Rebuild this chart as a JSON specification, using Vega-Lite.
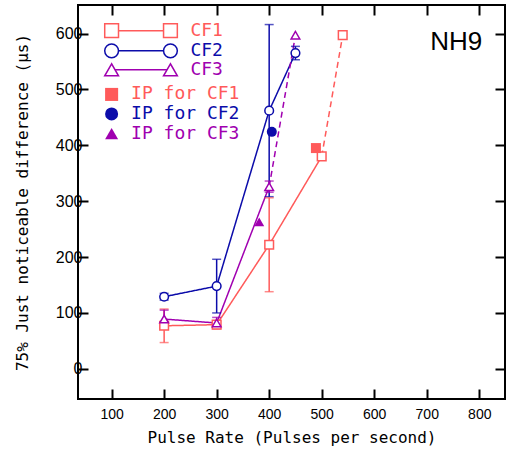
{
  "$schema": "https://vega.github.io/schema/vega-lite/v6.json",
  "width": 427,
  "height": 394,
  "autosize": {"type": "none"},
  "padding": {"left": 78, "top": 5, "right": 1, "bottom": 50},
  "background": "white",
  "config": {
    "view": {"stroke": "black", "strokeWidth": 2},
    "axis": {"grid": false, "domain": false, "tickColor": "black", "tickWidth": 2, "tickSize": -10, "labelColor": "black", "titleColor": "black"}
  },
  "datasets": {
    "lines": [
      {"series": "CF1", "seg": "solid", "x": 200, "y": 77},
      {"series": "CF1", "seg": "solid", "x": 300, "y": 79},
      {"series": "CF1", "seg": "solid", "x": 400, "y": 222},
      {"series": "CF1", "seg": "solid", "x": 500, "y": 380},
      {"series": "CF1", "seg": "dashed", "x": 500, "y": 380},
      {"series": "CF1", "seg": "dashed", "x": 540, "y": 597},
      {"series": "CF2", "seg": "solid", "x": 200, "y": 129},
      {"series": "CF2", "seg": "solid", "x": 300, "y": 148},
      {"series": "CF2", "seg": "solid", "x": 400, "y": 462},
      {"series": "CF2", "seg": "solid", "x": 450, "y": 565},
      {"series": "CF3", "seg": "solid", "x": 200, "y": 89},
      {"series": "CF3", "seg": "solid", "x": 300, "y": 82},
      {"series": "CF3", "seg": "solid", "x": 400, "y": 326},
      {"series": "CF3", "seg": "dashed", "x": 400, "y": 326},
      {"series": "CF3", "seg": "dashed", "x": 450, "y": 597}
    ],
    "pts": [
      {"series": "CF1", "x": 200, "y": 77},
      {"series": "CF1", "x": 300, "y": 79},
      {"series": "CF1", "x": 400, "y": 222},
      {"series": "CF1", "x": 500, "y": 380},
      {"series": "CF1", "x": 540, "y": 597},
      {"series": "CF2", "x": 200, "y": 129},
      {"series": "CF2", "x": 300, "y": 148},
      {"series": "CF2", "x": 400, "y": 462},
      {"series": "CF2", "x": 450, "y": 565},
      {"series": "CF3", "x": 200, "y": 89},
      {"series": "CF3", "x": 300, "y": 82},
      {"series": "CF3", "x": 400, "y": 326},
      {"series": "CF3", "x": 450, "y": 597}
    ],
    "errs": [
      {"series": "CF1", "x": 200, "lo": 47, "hi": 107},
      {"series": "CF1", "x": 300, "lo": 73, "hi": 85},
      {"series": "CF1", "x": 400, "lo": 138, "hi": 306},
      {"series": "CF2", "x": 200, "lo": 123, "hi": 135},
      {"series": "CF2", "x": 300, "lo": 100, "hi": 196},
      {"series": "CF2", "x": 400, "lo": 308, "hi": 616},
      {"series": "CF2", "x": 450, "lo": 553, "hi": 577},
      {"series": "CF3", "x": 200, "lo": 73, "hi": 105},
      {"series": "CF3", "x": 300, "lo": 72, "hi": 92},
      {"series": "CF3", "x": 400, "lo": 316, "hi": 336}
    ],
    "ip": [
      {"series": "CF1", "x": 489, "y": 395},
      {"series": "CF2", "x": 405, "y": 424},
      {"series": "CF3", "x": 381, "y": 263}
    ],
    "legLines": [
      {"series": "CF1", "x": 100, "y": 605},
      {"series": "CF1", "x": 212, "y": 605},
      {"series": "CF2", "x": 100, "y": 569},
      {"series": "CF2", "x": 212, "y": 569},
      {"series": "CF3", "x": 100, "y": 535},
      {"series": "CF3", "x": 212, "y": 535}
    ],
    "legIP": [
      {"series": "CF1", "x": 100, "y": 491},
      {"series": "CF2", "x": 100, "y": 456},
      {"series": "CF3", "x": 100, "y": 421}
    ],
    "legText": [
      {"series": "CF1", "x": 250, "y": 605, "label": "CF1"},
      {"series": "CF2", "x": 250, "y": 569, "label": "CF2"},
      {"series": "CF3", "x": 250, "y": 535, "label": "CF3"},
      {"series": "CF1", "x": 137, "y": 491, "label": "IP for CF1"},
      {"series": "CF2", "x": 137, "y": 456, "label": "IP for CF2"},
      {"series": "CF3", "x": 137, "y": 421, "label": "IP for CF3"}
    ],
    "tag": [{"x": 756, "y": 585, "label": "NH9"}]
  },
  "encoding": {
    "x": {"field": "x", "type": "quantitative", "scale": {"domain": [36, 849], "nice": false, "zero": false}, "axis": null},
    "y": {"field": "y", "type": "quantitative", "scale": {"domain": [-54, 651], "nice": false, "zero": false}, "axis": null},
    "color": {"field": "series", "type": "nominal", "scale": {"domain": ["CF1", "CF2", "CF3"], "range": ["#ff5a5a", "#0c0caa", "#a000b0"]}, "legend": null},
    "shape": {"field": "series", "type": "nominal", "scale": {"domain": ["CF1", "CF2", "CF3"], "range": ["square", "circle", "triangle-up"]}, "legend": null}
  },
  "layer": [
    {
      "data": {"name": "lines"},
      "mark": {"type": "line", "strokeWidth": 1.5},
      "encoding": {
        "x": {"field": "x", "type": "quantitative", "axis": {"orient": "bottom", "values": [100, 200, 300, 400, 500, 600, 700, 800], "labelFont": "Liberation Sans", "labelFontSize": 14, "labelPadding": 18, "title": "Pulse Rate (Pulses per second)", "titleFont": "DejaVu Sans Mono", "titleFontSize": 16, "titleFontWeight": "normal", "titlePadding": 8}},
        "y": {"field": "y", "type": "quantitative", "axis": {"orient": "left", "values": [0, 100, 200, 300, 400, 500, 600], "labelFont": "Liberation Sans", "labelFontSize": 16, "labelPadding": 6, "title": "75% Just noticeable difference (μs)", "titleFont": "DejaVu Sans Mono", "titleFontSize": 16, "titleFontWeight": "normal", "titlePadding": 25}},
        "shape": null,
        "detail": [{"field": "series"}, {"field": "seg"}],
        "strokeDash": {"field": "seg", "type": "nominal", "scale": {"domain": ["solid", "dashed"], "range": [[1, 0], [6, 4]]}, "legend": null}
      }
    },
    {
      "data": {"name": "errs"},
      "mark": {"type": "rule", "strokeWidth": 1.5},
      "encoding": {"y": {"field": "lo", "type": "quantitative", "axis": null}, "y2": {"field": "hi"}, "shape": null}
    },
    {
      "data": {"name": "errs"},
      "mark": {"type": "tick", "orient": "horizontal", "size": 9, "thickness": 1.5},
      "encoding": {"y": {"field": "lo", "type": "quantitative", "axis": null}, "shape": null}
    },
    {
      "data": {"name": "errs"},
      "mark": {"type": "tick", "orient": "horizontal", "size": 9, "thickness": 1.5},
      "encoding": {"y": {"field": "hi", "type": "quantitative", "axis": null}, "shape": null}
    },
    {
      "data": {"name": "pts"},
      "mark": {"type": "point", "filled": false, "fill": "white", "fillOpacity": 1, "opacity": 1, "size": 75, "strokeWidth": 1.5}
    },
    {
      "data": {"name": "ip"},
      "mark": {"type": "point", "filled": true, "opacity": 1, "size": 100}
    },
    {
      "data": {"name": "legLines"},
      "mark": {"type": "line", "strokeWidth": 1.5},
      "encoding": {"shape": null, "detail": {"field": "series"}}
    },
    {
      "data": {"name": "legLines"},
      "mark": {"type": "point", "filled": false, "fill": "white", "fillOpacity": 1, "opacity": 1, "size": 190, "strokeWidth": 1.5}
    },
    {
      "data": {"name": "legIP"},
      "mark": {"type": "point", "filled": true, "opacity": 1, "size": 170}
    },
    {
      "data": {"name": "legText"},
      "mark": {"type": "text", "align": "left", "baseline": "middle", "font": "DejaVu Sans Mono", "fontSize": 18},
      "encoding": {"text": {"field": "label"}, "shape": null}
    },
    {
      "data": {"name": "tag"},
      "mark": {"type": "text", "align": "center", "baseline": "middle", "font": "Liberation Sans", "fontSize": 26, "color": "black"},
      "encoding": {
        "text": {"field": "label"},
        "color": null,
        "shape": null,
        "x": {"field": "x", "type": "quantitative", "axis": {"orient": "top", "values": [100, 200, 300, 400, 500, 600, 700, 800], "labels": false, "title": null}},
        "y": {"field": "y", "type": "quantitative", "axis": {"orient": "right", "values": [0, 100, 200, 300, 400, 500, 600], "labels": false, "title": null}}
      }
    }
  ],
  "resolve": {"axis": {"x": "independent", "y": "independent"}}
}
